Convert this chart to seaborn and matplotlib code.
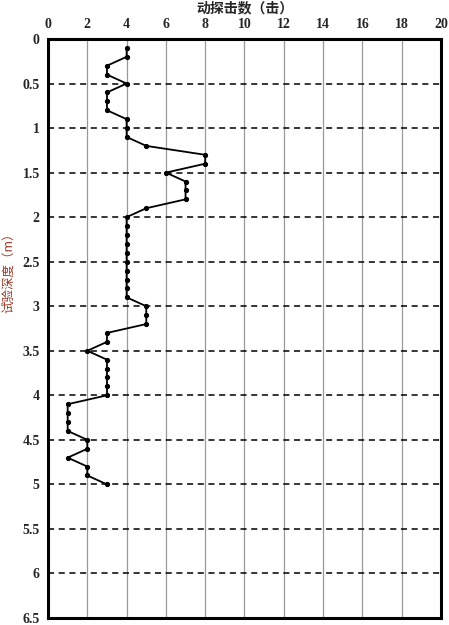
import numpy as np
import pandas as pd
import matplotlib
matplotlib.use("Agg")
import matplotlib.pyplot as plt
import seaborn as sns

# Test depth (m) and blow counts
depth = [0.1, 0.2, 0.3, 0.4, 0.5, 0.6, 0.7, 0.8, 0.9, 1.0,
         1.1, 1.2, 1.3, 1.4, 1.5, 1.6, 1.7, 1.8, 1.9, 2.0,
         2.1, 2.2, 2.3, 2.4, 2.5, 2.6, 2.7, 2.8, 2.9, 3.0,
         3.1, 3.2, 3.3, 3.4, 3.5, 3.6, 3.7, 3.8, 3.9, 4.0,
         4.1, 4.2, 4.3, 4.4, 4.5, 4.6, 4.7, 4.8, 4.9, 5.0]
blows = [4, 4, 3, 3, 4, 3, 3, 3, 4, 4,
         4, 5, 8, 8, 6, 7, 7, 7, 5, 4,
         4, 4, 4, 4, 4, 4, 4, 4, 4, 5,
         5, 5, 3, 3, 2, 3, 3, 3, 3, 3,
         1, 1, 1, 1, 2, 2, 1, 2, 2, 3]
x_ticks = [0, 2, 4, 6, 8, 10, 12, 14, 16, 18, 20]
y_ticks = [0, 0.5, 1, 1.5, 2, 2.5, 3, 3.5, 4, 4.5, 5, 5.5, 6, 6.5]

df = pd.DataFrame({"depth": depth, "blows": blows})

sns.set_style("white")
num_font = ["Liberation Serif", "DejaVu Serif"]
cjk_font = ["Noto Sans CJK SC", "DejaVu Sans"]

fig = plt.figure(figsize=(4.49, 6.25), dpi=100)
ax = fig.add_axes([0.107, 0.0112, 0.875, 0.9264])

sns.lineplot(data=df, x="blows", y="depth", sort=False, estimator=None,
             color="black", lw=1.3, marker="o", markersize=3,
             markeredgecolor="black", ax=ax)

ax.set_xlim(0, 20)
ax.set_ylim(6.5, 0)
ax.set_xticks(x_ticks)
ax.set_yticks(y_ticks)
ax.set_xticklabels([str(t) for t in x_ticks])
ax.set_yticklabels([f"{t:g}" for t in y_ticks])
ax.xaxis.tick_top()
ax.tick_params(length=0, pad=6)
for lab in ax.get_xticklabels() + ax.get_yticklabels():
    lab.set_family(num_font)
    lab.set_fontweight("bold")
    lab.set_fontsize(10)

for x in x_ticks[1:-1]:
    ax.axvline(x, color="#999999", lw=0.9, zorder=0)
for y in y_ticks[1:-1]:
    ax.axhline(y, color="black", lw=1.1, ls=(0, (4, 3)), zorder=0)

for s in ax.spines.values():
    s.set_visible(True)
    s.set_color("black")
    s.set_linewidth(2.2)

ax.set_xlabel("")
ax.set_ylabel("")
fig.text(0.546, 0.987, "动探击数（击）", ha="center", va="center",
         family=cjk_font, fontsize=10, fontweight="bold")
fig.text(0.018, 0.568, "试验深度（m）", ha="center", va="center",
         rotation=90, family=cjk_font, fontsize=9, color="#9b3a2a")

fig.savefig("out.png", dpi=100)
